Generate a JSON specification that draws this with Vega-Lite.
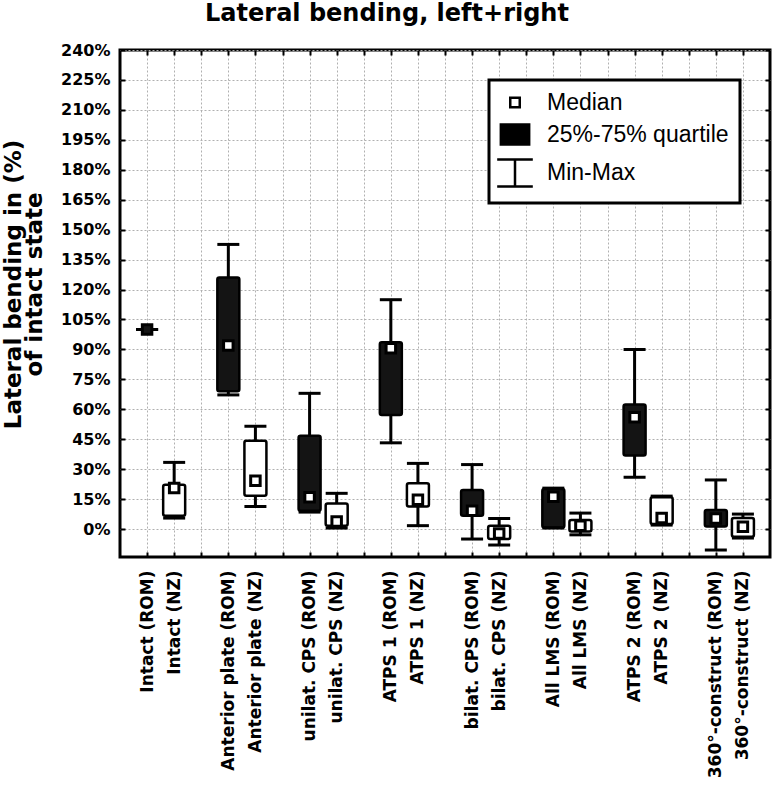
{
  "$schema": "https://vega.github.io/schema/vega-lite/v6.json",
  "width": 650,
  "height": 507,
  "autosize": {"type": "none"},
  "padding": {"left": 120, "top": 50, "right": 4, "bottom": 235},
  "background": "white",
  "title": {
    "text": "Lateral bending, left+right",
    "font": "DejaVu Sans",
    "fontWeight": "bold",
    "fontSize": 24,
    "color": "black",
    "anchor": "middle",
    "dx": -58,
    "offset": 16,
    "frame": "group"
  },
  "datasets": {
    "boxes": [
      {"label": "Intact (ROM)", "type": "ROM", "min": 100, "q1": 100, "median": 100, "q3": 100, "max": 100},
      {"label": "Intact (NZ)", "type": "NZ", "min": 5.5, "q1": 6.7, "median": 20.6, "q3": 22.2, "max": 33.4},
      {"label": "Anterior plate (ROM)", "type": "ROM", "min": 67.2, "q1": 69, "median": 92, "q3": 126, "max": 142.6},
      {"label": "Anterior plate (NZ)", "type": "NZ", "min": 11.3, "q1": 16.7, "median": 24.2, "q3": 44.3, "max": 51.5},
      {"label": "unilat. CPS (ROM)", "type": "ROM", "min": 8.5, "q1": 9.2, "median": 15.9, "q3": 46.8, "max": 68},
      {"label": "unilat. CPS (NZ)", "type": "NZ", "min": 0.5, "q1": 1.7, "median": 3.8, "q3": 12.8, "max": 17.9},
      {"label": "ATPS 1 (ROM)", "type": "ROM", "min": 43.2, "q1": 57.2, "median": 90.6, "q3": 93.6, "max": 114.9},
      {"label": "ATPS 1 (NZ)", "type": "NZ", "min": 1.7, "q1": 11.3, "median": 14.7, "q3": 22.9, "max": 32.9},
      {"label": "bilat. CPS (ROM)", "type": "ROM", "min": -5, "q1": 6.7, "median": 9.2, "q3": 19.6, "max": 32.3},
      {"label": "bilat. CPS (NZ)", "type": "NZ", "min": -8, "q1": -5, "median": -2.2, "q3": 1.7, "max": 5.3},
      {"label": "All LMS (ROM)", "type": "ROM", "min": 0.5, "q1": 0.8, "median": 16.2, "q3": 20.1, "max": 20.5},
      {"label": "All LMS (NZ)", "type": "NZ", "min": -2.9, "q1": -1.2, "median": 1.7, "q3": 4.5, "max": 8},
      {"label": "ATPS 2 (ROM)", "type": "ROM", "min": 25.9, "q1": 36.8, "median": 56, "q3": 62.4, "max": 90},
      {"label": "ATPS 2 (NZ)", "type": "NZ", "min": 2, "q1": 2.5, "median": 5.5, "q3": 15.9, "max": 16.5},
      {"label": "360°-construct (ROM)", "type": "ROM", "min": -10.5, "q1": 1.3, "median": 5.3, "q3": 9.5, "max": 24.6},
      {"label": "360°-construct (NZ)", "type": "NZ", "min": -4.5, "q1": -3.9, "median": 1.2, "q3": 5.5, "max": 7.5}
    ],
    "legendItems": [
      {"item": "Median"},
      {"item": "25%-75% quartile"},
      {"item": "Min-Max"}
    ]
  },
  "layer": [
    {
      "data": {"name": "boxes"},
      "mark": {"type": "rule", "strokeWidth": 3, "color": "black"},
      "encoding": {
        "x": {
          "field": "label", "type": "nominal",
          "scale": {"type": "point", "padding": 1, "domain": ["Intact (ROM)", "Intact (NZ)", " ", "Anterior plate (ROM)", "Anterior plate (NZ)", "  ", "unilat. CPS (ROM)", "unilat. CPS (NZ)", "   ", "ATPS 1 (ROM)", "ATPS 1 (NZ)", "    ", "bilat. CPS (ROM)", "bilat. CPS (NZ)", "     ", "All LMS (ROM)", "All LMS (NZ)", "      ", "ATPS 2 (ROM)", "ATPS 2 (NZ)", "       ", "360°-construct (ROM)", "360°-construct (NZ)"]},
          "axis": {
            "orient": "bottom", "title": null, "labelAngle": -90,
            "labelFont": "DejaVu Sans", "labelFontWeight": "bold", "labelFontSize": 17, "labelColor": "black",
            "labelPadding": 18, "labelLimit": 0,
            "ticks": true, "tickSize": -5, "tickColor": "black", "tickWidth": 2,
            "domain": false, "grid": true, "gridDash": [2, 2], "gridColor": "#b0b0b0", "gridWidth": 1
          }
        },
        "y": {
          "field": "min", "type": "quantitative",
          "scale": {"domain": [-14, 240], "nice": false, "zero": false},
          "axis": {
            "orient": "left",
            "title": ["Lateral bending in (%)", "of intact state"],
            "titleFont": "DejaVu Sans", "titleFontWeight": "bold", "titleFontSize": 23, "titleColor": "black",
            "titleAngle": -90, "titleX": -118, "titleY": 234, "titleAlign": "center", "titleBaseline": "top", "titleLineHeight": 21,
            "values": [0, 15, 30, 45, 60, 75, 90, 105, 120, 135, 150, 165, 180, 195, 210, 225, 240],
            "labelExpr": "datum.value + '%'",
            "labelFont": "DejaVu Sans", "labelFontWeight": "bold", "labelFontSize": 16, "labelColor": "black",
            "labelPadding": 15,
            "ticks": true, "tickSize": -5, "tickColor": "black", "tickWidth": 2,
            "domain": false, "grid": true, "gridDash": [2, 2], "gridColor": "#b0b0b0", "gridWidth": 1
          }
        },
        "y2": {"field": "max"}
      }
    },
    {
      "data": {"name": "boxes"},
      "mark": {"type": "bar", "width": 22, "stroke": "black", "strokeWidth": 2.5, "cornerRadius": 2},
      "encoding": {
        "x": {"field": "label", "type": "nominal", "axis": null},
        "y": {"field": "q1", "type": "quantitative", "axis": null},
        "y2": {"field": "q3"},
        "fill": {"field": "type", "type": "nominal", "scale": {"domain": ["ROM", "NZ"], "range": ["#141414", "#ffffff"]}, "legend": null}
      }
    },
    {
      "data": {"name": "boxes"},
      "mark": {"type": "tick", "size": 22, "thickness": 3, "color": "black", "opacity": 1},
      "encoding": {
        "x": {"field": "label", "type": "nominal", "axis": null},
        "y": {"field": "max", "type": "quantitative", "axis": null}
      }
    },
    {
      "data": {"name": "boxes"},
      "mark": {"type": "tick", "size": 22, "thickness": 3, "color": "black", "opacity": 1},
      "encoding": {
        "x": {"field": "label", "type": "nominal", "axis": null},
        "y": {"field": "min", "type": "quantitative", "axis": null}
      }
    },
    {
      "data": {"name": "boxes"},
      "mark": {"type": "point", "shape": "square", "size": 90, "filled": true, "stroke": "black", "strokeWidth": 3, "opacity": 1},
      "encoding": {
        "x": {"field": "label", "type": "nominal", "axis": null},
        "y": {"field": "median", "type": "quantitative", "axis": null},
        "fill": {"condition": {"test": "datum.q3 - datum.q1 < 1", "value": "#141414"}, "value": "white"}
      }
    },
    {
      "data": {"name": "legendItems"},
      "mark": {"type": "point", "opacity": 0, "strokeWidth": 2.5, "filled": false},
      "encoding": {
        "shape": {
          "field": "item", "type": "nominal",
          "scale": {"domain": ["Median", "25%-75% quartile", "Min-Max"], "range": ["square", "M-1.4,-1H1.4V1H-1.4ZM-1.4,-0.86H1.4M-1.4,-0.72H1.4M-1.4,-0.58H1.4M-1.4,-0.44H1.4M-1.4,-0.3H1.4M-1.4,-0.16H1.4M-1.4,-0.02H1.4M-1.4,0.12H1.4M-1.4,0.26H1.4M-1.4,0.4H1.4M-1.4,0.54H1.4M-1.4,0.68H1.4M-1.4,0.82H1.4", "M-1.32,-1H1.32M0,-1V1M-1.32,1H1.32"]},
          "legend": {"title": null, "orient": "top-right", "offset": 30, "symbolOpacity": 1, "symbolFillColor": "white", "symbolStrokeColor": "black", "symbolStrokeWidth": 2.5,
            "encode": {"symbols": {"strokeJoin": {"value": "round"}}}}
        },
        "size": {
          "field": "item", "type": "nominal",
          "scale": {"domain": ["Median", "25%-75% quartile", "Min-Max"], "range": [90, 729, 784]},
          "legend": {"title": null, "orient": "top-right", "offset": 30, "symbolOpacity": 1, "symbolFillColor": "white", "symbolStrokeColor": "black", "symbolStrokeWidth": 2.5,
            "encode": {"symbols": {"strokeJoin": {"value": "round"}}}}
        },
        "stroke": {"value": "black"}
      }
    },
    {
      "data": {"name": "boxes"},
      "mark": {"type": "rule", "opacity": 0},
      "encoding": {
        "x": {
          "field": "label", "type": "nominal",
          "axis": {"orient": "top", "title": null, "labels": false, "domain": false, "grid": false, "ticks": true, "tickSize": -5, "tickColor": "black", "tickWidth": 2}
        },
        "y": {
          "field": "min", "type": "quantitative",
          "axis": {"orient": "right", "title": null, "labels": false, "domain": false, "grid": false, "ticks": true, "tickSize": -5, "tickColor": "black", "tickWidth": 2,
            "values": [0, 15, 30, 45, 60, 75, 90, 105, 120, 135, 150, 165, 180, 195, 210, 225, 240]}
        }
      }
    }
  ],
  "resolve": {"axis": {"x": "independent", "y": "independent"}},
  "config": {
    "view": {"stroke": "black", "strokeWidth": 3},
    "legend": {
      "padding": 11,
      "strokeColor": "black",
      "strokeWidth": 3,
      "fillColor": "white",
      "labelFont": "Liberation Sans",
      "labelFontSize": 23,
      "labelColor": "black",
      "labelOffset": 17,
      "labelLimit": 0,
      "rowPadding": 4,
      "cornerRadius": 0
    }
  }
}
